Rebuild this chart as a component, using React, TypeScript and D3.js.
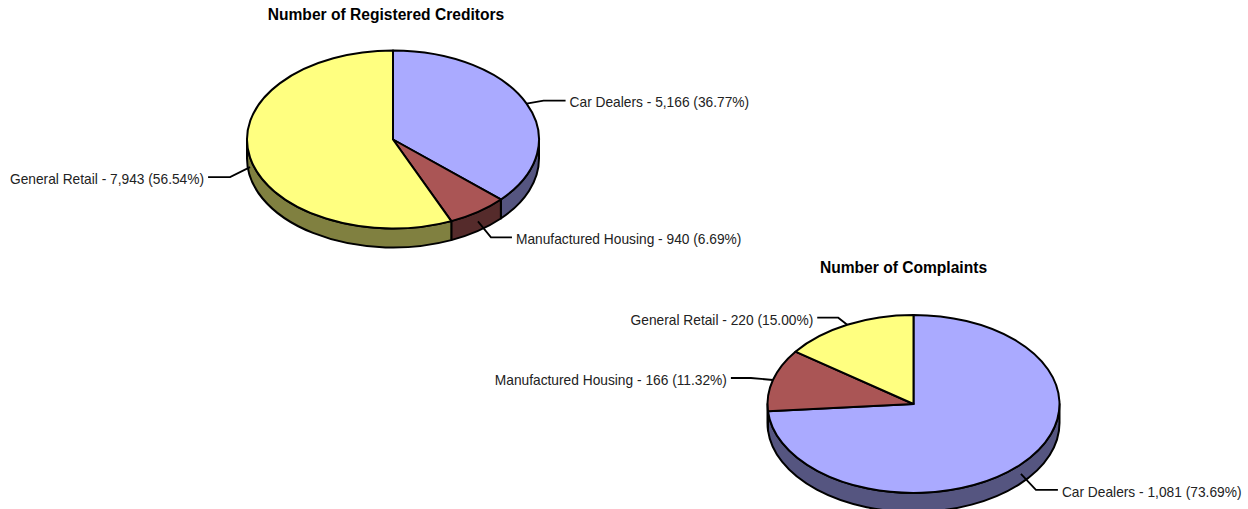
import React from 'react';
import * as d3 from 'd3';

const categories = ['Car Dealers', 'Manufactured Housing', 'General Retail'];
const creditors = [5166, 940, 7943];
const complaints = [1081, 166, 220];

const topColors = ['#AAAAFF', '#AA5555', '#FFFF80'];
const sideColors = ['#555580', '#552B2B', '#808040'];

const rx = 146;
const ry = 89;
const depth = 19;
const FONT = '"Liberation Sans", Arial, sans-serif';

const topColor = d3.scaleOrdinal<string, string>().domain(categories).range(topColors);
const sideColor = d3.scaleOrdinal<string, string>().domain(categories).range(sideColors);

const pieLayout = d3.pie<number>().sort(null);
const arcGen = d3.arc<d3.PieArcDatum<number>>().innerRadius(0).outerRadius(rx);
const fmtNum = d3.format(',');
const fmtPct = d3.format('.2%');

const onEllipse = (a: number, extra = 0): [number, number] => [
  rx * Math.sin(a),
  -ry * Math.cos(a) + extra,
];

// visible outer wall of a slice, only the front half of the ellipse has one
function wallPath(a0: number, a1: number) {
  const from = Math.max(a0, Math.PI / 2);
  const to = Math.min(a1, Math.PI * 1.5);
  if (to <= from) return null;
  const [x0, y0] = onEllipse(from);
  const [x1, y1] = onEllipse(to);
  return `M${x0},${y0}A${rx},${ry} 0 0 1 ${x1},${y1}L${x1},${y1 + depth}A${rx},${ry} 0 0 0 ${x0},${y0 + depth}Z`;
}

type PieProps = {
  title: string;
  values: number[];
  cx: number;
  cy: number;
  titleX: number;
  titleY: number;
  elbows: [number, number][];
  runs: number[];
};

function Pie3D({ title, values, cx, cy, titleX, titleY, elbows, runs }: PieProps) {
  const total = d3.sum(values);
  const slices = pieLayout(values);

  return (
    <g>
      <text x={titleX} y={titleY} textAnchor="middle" fontFamily={FONT} fontSize={15.6} fontWeight="bold" fill="#000">
        {title}
      </text>
      <g transform={`translate(${cx},${cy})`}>
        {slices.map((s, i) => {
          const d = wallPath(s.startAngle, s.endAngle);
          return d ? (
            <path key={i} d={d} fill={sideColor(categories[i])} stroke="#000" strokeWidth={2} strokeLinejoin="round" />
          ) : null;
        })}
        {slices.map((s, i) => (
          <path
            key={i}
            d={arcGen(s) as string}
            transform={`scale(1,${ry / rx})`}
            fill={topColor(categories[i])}
            stroke="#000"
            strokeWidth={2}
            strokeLinejoin="round"
            vectorEffect="non-scaling-stroke"
          />
        ))}
        {slices.map((s, i) => {
          const mid = (s.startAngle + s.endAngle) / 2;
          const front = Math.cos(mid) < 0;
          const [x0, y0] = onEllipse(mid, front ? depth / 2 : 0);
          const x1 = x0 + elbows[i][0];
          const y1 = y0 + elbows[i][1];
          const dir = Math.sin(mid) >= 0 ? 1 : -1;
          const x2 = x1 + dir * runs[i];
          return (
            <g key={i}>
              <path d={d3.line()([[x0, y0], [x1, y1], [x2, y1]]) as string} fill="none" stroke="#000" strokeWidth={1.8} />
              <text
                x={x2 + dir * 4}
                y={y1 + 2}
                dy="0.35em"
                textAnchor={dir > 0 ? 'start' : 'end'}
                fontFamily={FONT}
                fontSize={13.75}
                fill="#222"
              >
                {`${categories[i]} - ${fmtNum(values[i])} (${fmtPct(values[i] / total)})`}
              </text>
            </g>
          );
        })}
      </g>
    </g>
  );
}

export default function App() {
  return (
    <svg width={1248} height={509} style={{ position: 'absolute', left: 0, top: 0, background: '#fff' }}>
      <Pie3D
        title="Number of Registered Creditors"
        values={creditors}
        cx={393}
        cy={139.5}
        titleX={386}
        titleY={20}
        elbows={[[17, -3], [13, 16], [-20, 10]]}
        runs={[22, 21, 22]}
      />
      <Pie3D
        title="Number of Complaints"
        values={complaints}
        cx={913.5}
        cy={404}
        titleX={903.5}
        titleY={273}
        elbows={[[15, 16], [-22, -2], [-9, -7]]}
        runs={[22, 20, 21]}
      />
    </svg>
  );
}
